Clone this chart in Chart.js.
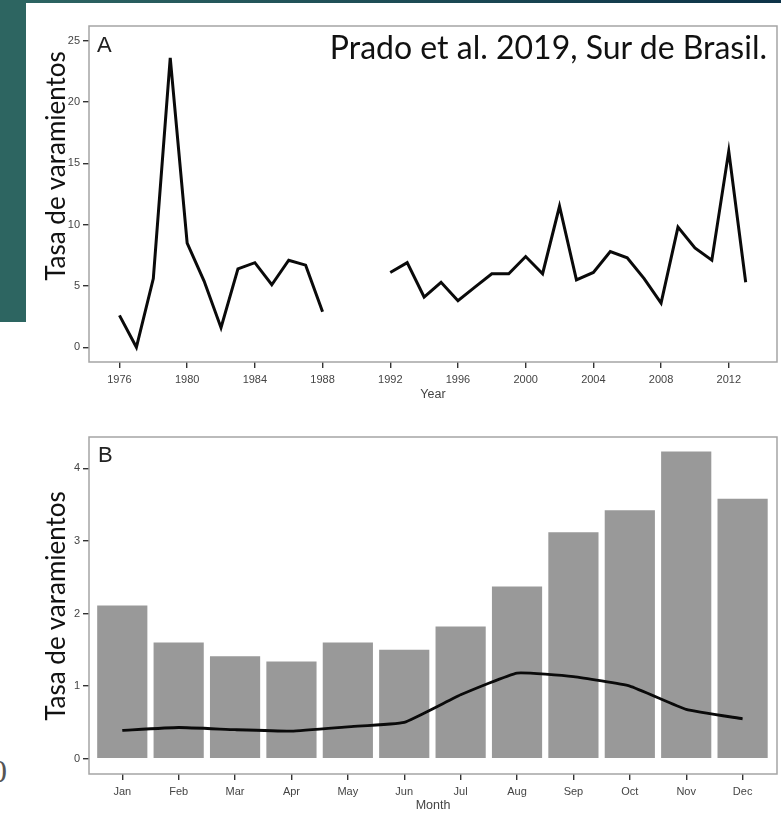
<!DOCTYPE html>
<html>
<head>
<meta charset="utf-8">
<script src="https://cdn.jsdelivr.net/npm/chart.js@4.4.1/dist/chart.umd.min.js"></script>
<style>
  html, body { margin: 0; padding: 0; background: #fff; }
  body { width: 781px; height: 817px; position: relative; overflow: hidden; font-family: "Liberation Sans", Arial, sans-serif; }
  .band { position: absolute; left: 0; top: 0; width: 781px; height: 3px; background: linear-gradient(90deg, #2e6663, #0d3348); }
  .side { position: absolute; left: 0; top: 0; width: 26px; height: 322px; background: #2d6561; }
  #wrapA { position: absolute; left: 0; top: 0; width: 781px; height: 410px; }
  #wrapB { position: absolute; left: 0; top: 410px; width: 781px; height: 407px; }
  .panel { position: absolute; font-size: 22px; line-height: 1; color: #222; }
  .note { position: absolute; right: 14px; top: 31px; font-family: Lato, sans-serif; font-size: 32px; line-height: 1; color: #111; white-space: nowrap; }
  .ytitle { position: absolute; font-family: Lato, sans-serif; font-size: 26px; line-height: 1; color: #111; white-space: nowrap; transform: translate(-50%, -50%) rotate(-90deg); }
  .stray { position: absolute; left: -9px; top: 755px; font-family: "Liberation Serif", serif; font-size: 32px; line-height: 1; color: #555; }
</style>
</head>
<body>
<div class="band"></div>
<div class="side"></div>
<div class="stray">0</div>
<div id="wrapA"><canvas id="chartA"></canvas></div>
<div id="wrapB"><canvas id="chartB"></canvas></div>
<div class="panel" style="left:97px;top:34px;">A</div>
<div class="panel" style="left:98px;top:444px;">B</div>
<div class="note">Prado et al. 2019, Sur de Brasil.</div>
<div class="ytitle" style="left:55px;top:166px;">Tasa de varamientos</div>
<div class="ytitle" style="left:55px;top:606px;">Tasa de varamientos</div>
<script>
// panel A: yearly stranding rate (gap 1989-1991)
const YEARS = [1976, 1977, 1978, 1979, 1980, 1981, 1982, 1983, 1984, 1985, 1986, 1987, 1988,
  1989, 1990, 1991, 1992, 1993, 1994, 1995, 1996, 1997, 1998, 1999, 2000, 2001, 2002,
  2003, 2004, 2005, 2006, 2007, 2008, 2009, 2010, 2011, 2012, 2013];
const RATE = [2.6, 0, 5.6, 23.6, 8.5, 5.4, 1.6, 6.4, 6.9, 5.1, 7.1, 6.7, 2.9,
  null, null, null, 6.1, 6.9, 4.1, 5.3, 3.8, 4.9, 6.0, 6.0, 7.4, 6.0, 11.5,
  5.5, 6.1, 7.8, 7.3, 5.6, 3.6, 9.8, 8.1, 7.1, 16.0, 5.3];
const YEAR_TICKS = [1976, 1980, 1984, 1988, 1992, 1996, 2000, 2004, 2008, 2012];
const RATE_TICKS = [0, 5, 10, 15, 20, 25];

// panel B: monthly rate (bars) and trend line
const MONTHS = ['Jan', 'Feb', 'Mar', 'Apr', 'May', 'Jun', 'Jul', 'Aug', 'Sep', 'Oct', 'Nov', 'Dec'];
const MONTH_RATE = [2.11, 1.60, 1.41, 1.34, 1.60, 1.50, 1.82, 2.37, 3.12, 3.42, 4.23, 3.58];
const MONTH_TREND = [0.39, 0.43, 0.40, 0.38, 0.44, 0.50, 0.88, 1.18, 1.13, 1.00, 0.68, 0.55];
const MONTH_TICKS = [0, 1, 2, 3, 4];

const TICK_FONT = { family: 'Liberation Sans', size: 11 };
const TICK_COLOR = '#444';

// grey frame round the plot region, like R's box()
const boxPlugin = {
  id: 'box',
  afterDraw(chart) {
    const { ctx, chartArea: a } = chart;
    ctx.save();
    ctx.strokeStyle = '#a5a5a5';
    ctx.lineWidth = 1.5;
    ctx.strokeRect(a.left, a.top, a.right - a.left, a.bottom - a.top);
    ctx.restore();
  }
};

const tickGrid = { drawOnChartArea: false, drawTicks: true, tickLength: 6, color: '#333', lineWidth: 1.4, offset: false };

function setTicks(list) {
  return scale => { scale.ticks = list.map(v => ({ value: v })); };
}

new Chart(document.getElementById('chartA'), {
  type: 'line',
  data: {
    datasets: [{
      data: YEARS.map((yr, i) => ({ x: yr, y: RATE[i] })),
      borderColor: '#0a0a0a',
      borderWidth: 3,
      pointRadius: 0,
      spanGaps: false,
      tension: 0
    }]
  },
  options: {
    responsive: true,
    maintainAspectRatio: false,
    animation: false,
    layout: { padding: { left: 0, top: 26, right: 4, bottom: 0 } },
    plugins: { legend: { display: false }, tooltip: { enabled: false } },
    scales: {
      x: {
        type: 'linear',
        min: 1974.2,
        max: 2014.85,
        afterBuildTicks: setTicks(YEAR_TICKS),
        afterFit: s => { s.height = 48; },
        border: { display: false },
        grid: tickGrid,
        ticks: { font: TICK_FONT, color: TICK_COLOR, padding: 5, maxRotation: 0, autoSkip: false, callback: v => String(v) },
        title: { display: true, text: 'Year', font: { family: 'Liberation Sans', size: 12.5 }, color: '#444', padding: { top: 0, bottom: 8 } }
      },
      y: {
        min: -1.2,
        max: 26.2,
        afterBuildTicks: setTicks(RATE_TICKS),
        afterFit: s => { s.width = 89; },
        border: { display: false },
        grid: tickGrid,
        ticks: { font: TICK_FONT, color: TICK_COLOR, padding: 3, callback: v => String(v) }
      }
    }
  },
  plugins: [boxPlugin]
});

new Chart(document.getElementById('chartB'), {
  type: 'bar',
  data: {
    datasets: [{
      type: 'line',
      order: 0,
      data: MONTH_TREND.map((v, i) => ({ x: i, y: v })),
      borderColor: '#0a0a0a',
      borderWidth: 2.8,
      pointRadius: 0,
      tension: 0.12
    }, {
      type: 'bar',
      order: 1,
      data: MONTH_RATE.map((v, i) => ({ x: i, y: v })),
      backgroundColor: '#999999',
      borderWidth: 0,
      barPercentage: 0.89,
      categoryPercentage: 1
    }]
  },
  options: {
    responsive: true,
    maintainAspectRatio: false,
    animation: false,
    layout: { padding: { left: 0, top: 27, right: 4, bottom: 0 } },
    plugins: { legend: { display: false }, tooltip: { enabled: false } },
    scales: {
      x: {
        type: 'linear',
        offset: false,
        min: -0.59,
        max: 11.61,
        afterBuildTicks: setTicks(MONTHS.map((m, i) => i)),
        afterFit: s => { s.height = 43; },
        border: { display: false },
        grid: tickGrid,
        ticks: { font: TICK_FONT, color: TICK_COLOR, padding: 5, maxRotation: 0, autoSkip: false, callback: v => MONTHS[v] },
        title: { display: true, text: 'Month', font: { family: 'Liberation Sans', size: 12.5 }, color: '#444', padding: { top: 0, bottom: 4 } }
      },
      y: {
        min: -0.21,
        max: 4.43,
        afterBuildTicks: setTicks(MONTH_TICKS),
        afterFit: s => { s.width = 89; },
        border: { display: false },
        grid: tickGrid,
        ticks: { font: TICK_FONT, color: TICK_COLOR, padding: 3, callback: v => String(v) }
      }
    }
  },
  plugins: [boxPlugin]
});
</script>
</body>
</html>
